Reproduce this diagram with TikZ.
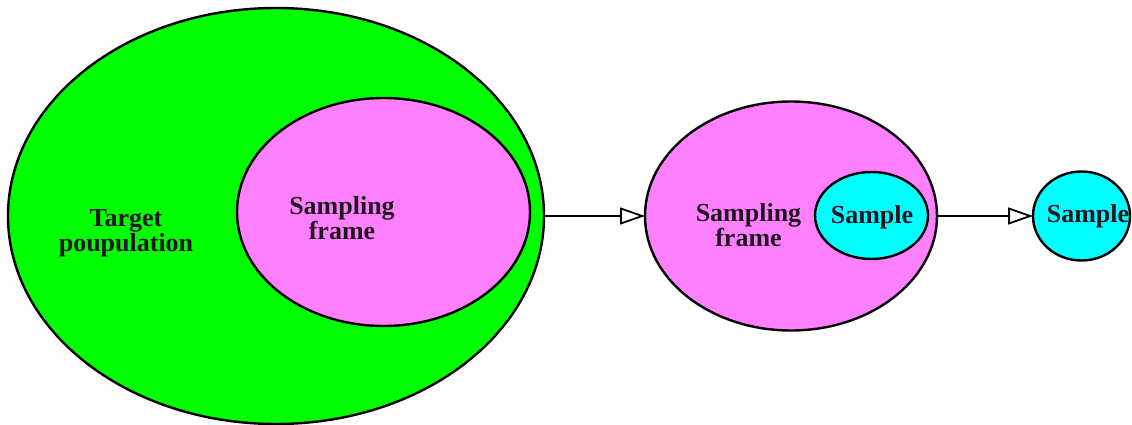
\documentclass[tikz,border=0pt]{standalone}
\usepackage{fontspec}
\setmainfont{Liberation Serif}
\usetikzlibrary{shapes.geometric,arrows.meta}
\definecolor{tgreen}{HTML}{00FF00}
\definecolor{tpink}{HTML}{FF80FF}
\definecolor{tcyan}{HTML}{00FFFF}
\definecolor{tink}{HTML}{221522}
\begin{document}
\begin{tikzpicture}[x=1pt,y=-1pt,
  blob/.style={ellipse,draw=black,line width=2.4pt,inner sep=0pt,outer sep=0pt},
  lbl/.style={font=\bfseries\fontsize{26}{23.5}\selectfont,text=tink,align=center,inner sep=0pt},
  flow/.style={line width=1.8pt,-{Triangle[open,length=25pt,width=17pt,fill=white]}}]
\useasboundingbox (0,0) rectangle (1132,425);
\node[blob,fill=tgreen,minimum width=536pt,minimum height=416pt] (pop) at (276,216) {};
\node[blob,fill=tpink,minimum width=293pt,minimum height=228pt] (frame) at (383.5,212) {};
\node[blob,fill=tpink,minimum width=292pt,minimum height=229pt] (frame2) at (791,216) {};
\node[blob,fill=tcyan,minimum width=113pt,minimum height=87pt] (samp) at (871.5,215.5) {};
\node[blob,fill=tcyan,minimum width=97pt,minimum height=89pt] (samp2) at (1081.5,216) {};
\node[lbl] (tpl) at (126,233) {Target\\poupulation};
\node[lbl] (frl) at (342,218.5) {Sampling\\frame};
\node[lbl] (frl2) at (748.5,225.5) {Sampling\\frame};
\node[lbl,anchor=base] (sl) at (872,223) {Sample};
\node[lbl,anchor=base] (sl2) at (1088,222) {Sample};
\draw[flow] (pop.east) -- (frame2.west);
\draw[flow] (frame2.east) -- (samp2.west);
\end{tikzpicture}
\end{document}
